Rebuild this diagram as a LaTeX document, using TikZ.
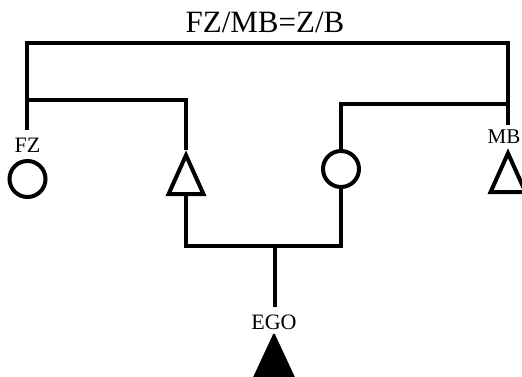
\documentclass[tikz,border=0pt]{standalone}
\usepackage{fontspec}
\setmainfont{Liberation Serif}
\usetikzlibrary{shapes.geometric}

\begin{document}
\begin{tikzpicture}[x=1pt,y=-1pt,
        kin/.style={
            line width=4pt
        },
        femnode/.style={
            circle,
            draw,
            line width=4pt,
            minimum size=36pt,
            inner sep=0pt
        },
        malenode/.style={
            isosceles triangle,
            isosceles triangle stretches,
            shape border rotate=90,
            draw,
            line width=4pt,
            minimum width=35pt,
            minimum height=39pt,
            inner sep=0pt
        },
        egonode/.style={
            malenode,
            fill=black,
            line width=2pt,
            line join=round,
            minimum width=40pt,
            minimum height=43pt
        },
        lbl/.style={
            font=\fontsize{22}{26}\selectfont,
            inner sep=0pt,
            anchor=base
        }
    ]
        \useasboundingbox (0,0) rectangle (522,377);

        % Title
        \node[font=\fontsize{31}{36}\selectfont, inner sep=0pt, anchor=base]
            (title) at (265,33) {FZ/MB=Z/B};

        % Kin symbols
        \node[femnode] (fz) at (27.5,179) {};
        \node[malenode, anchor=apex] (b) at (186,150) {};
        \node[femnode] (z) at (341,169) {};
        \node[malenode, anchor=apex] (mb) at (508,148) {};
        \node[egonode, anchor=apex] (ego) at (274,332) {};

        \node[lbl] (fzlbl) at (27.5,153) {FZ};
        \node[lbl, font=\fontsize{21}{25}\selectfont] (mblbl) at (504,144) {MB};
        \node[lbl] (egolbl) at (274,329) {EGO};

        % Connectors
        \coordinate (tl) at (27,43);
        \coordinate (tr) at (508,43);
        \coordinate (fzend) at (27,130);
        \coordinate (mbend) at (508,125);
        \coordinate (ls) at (27,100);
        \coordinate (lc) at (186,100);
        \coordinate (rs) at (508,104);
        \coordinate (rc) at (341,104);
        \coordinate (bl) at (186,246);
        \coordinate (br) at (341,246);
        \coordinate (bm) at (275,246);
        \coordinate (egoend) at (275,307);

        \draw[kin] (fzend) -- (tl) -- (tr) -- (mbend);
        \draw[kin] (ls) -- (lc) -- (b.apex);
        \draw[kin] (rs) -- (rc) -- (z.north);
        \draw[kin] (b.south) -- (bl) -- (br) -- (z.south);
        \draw[kin] (bm) -- (egoend);

    \end{tikzpicture}
\end{document}
